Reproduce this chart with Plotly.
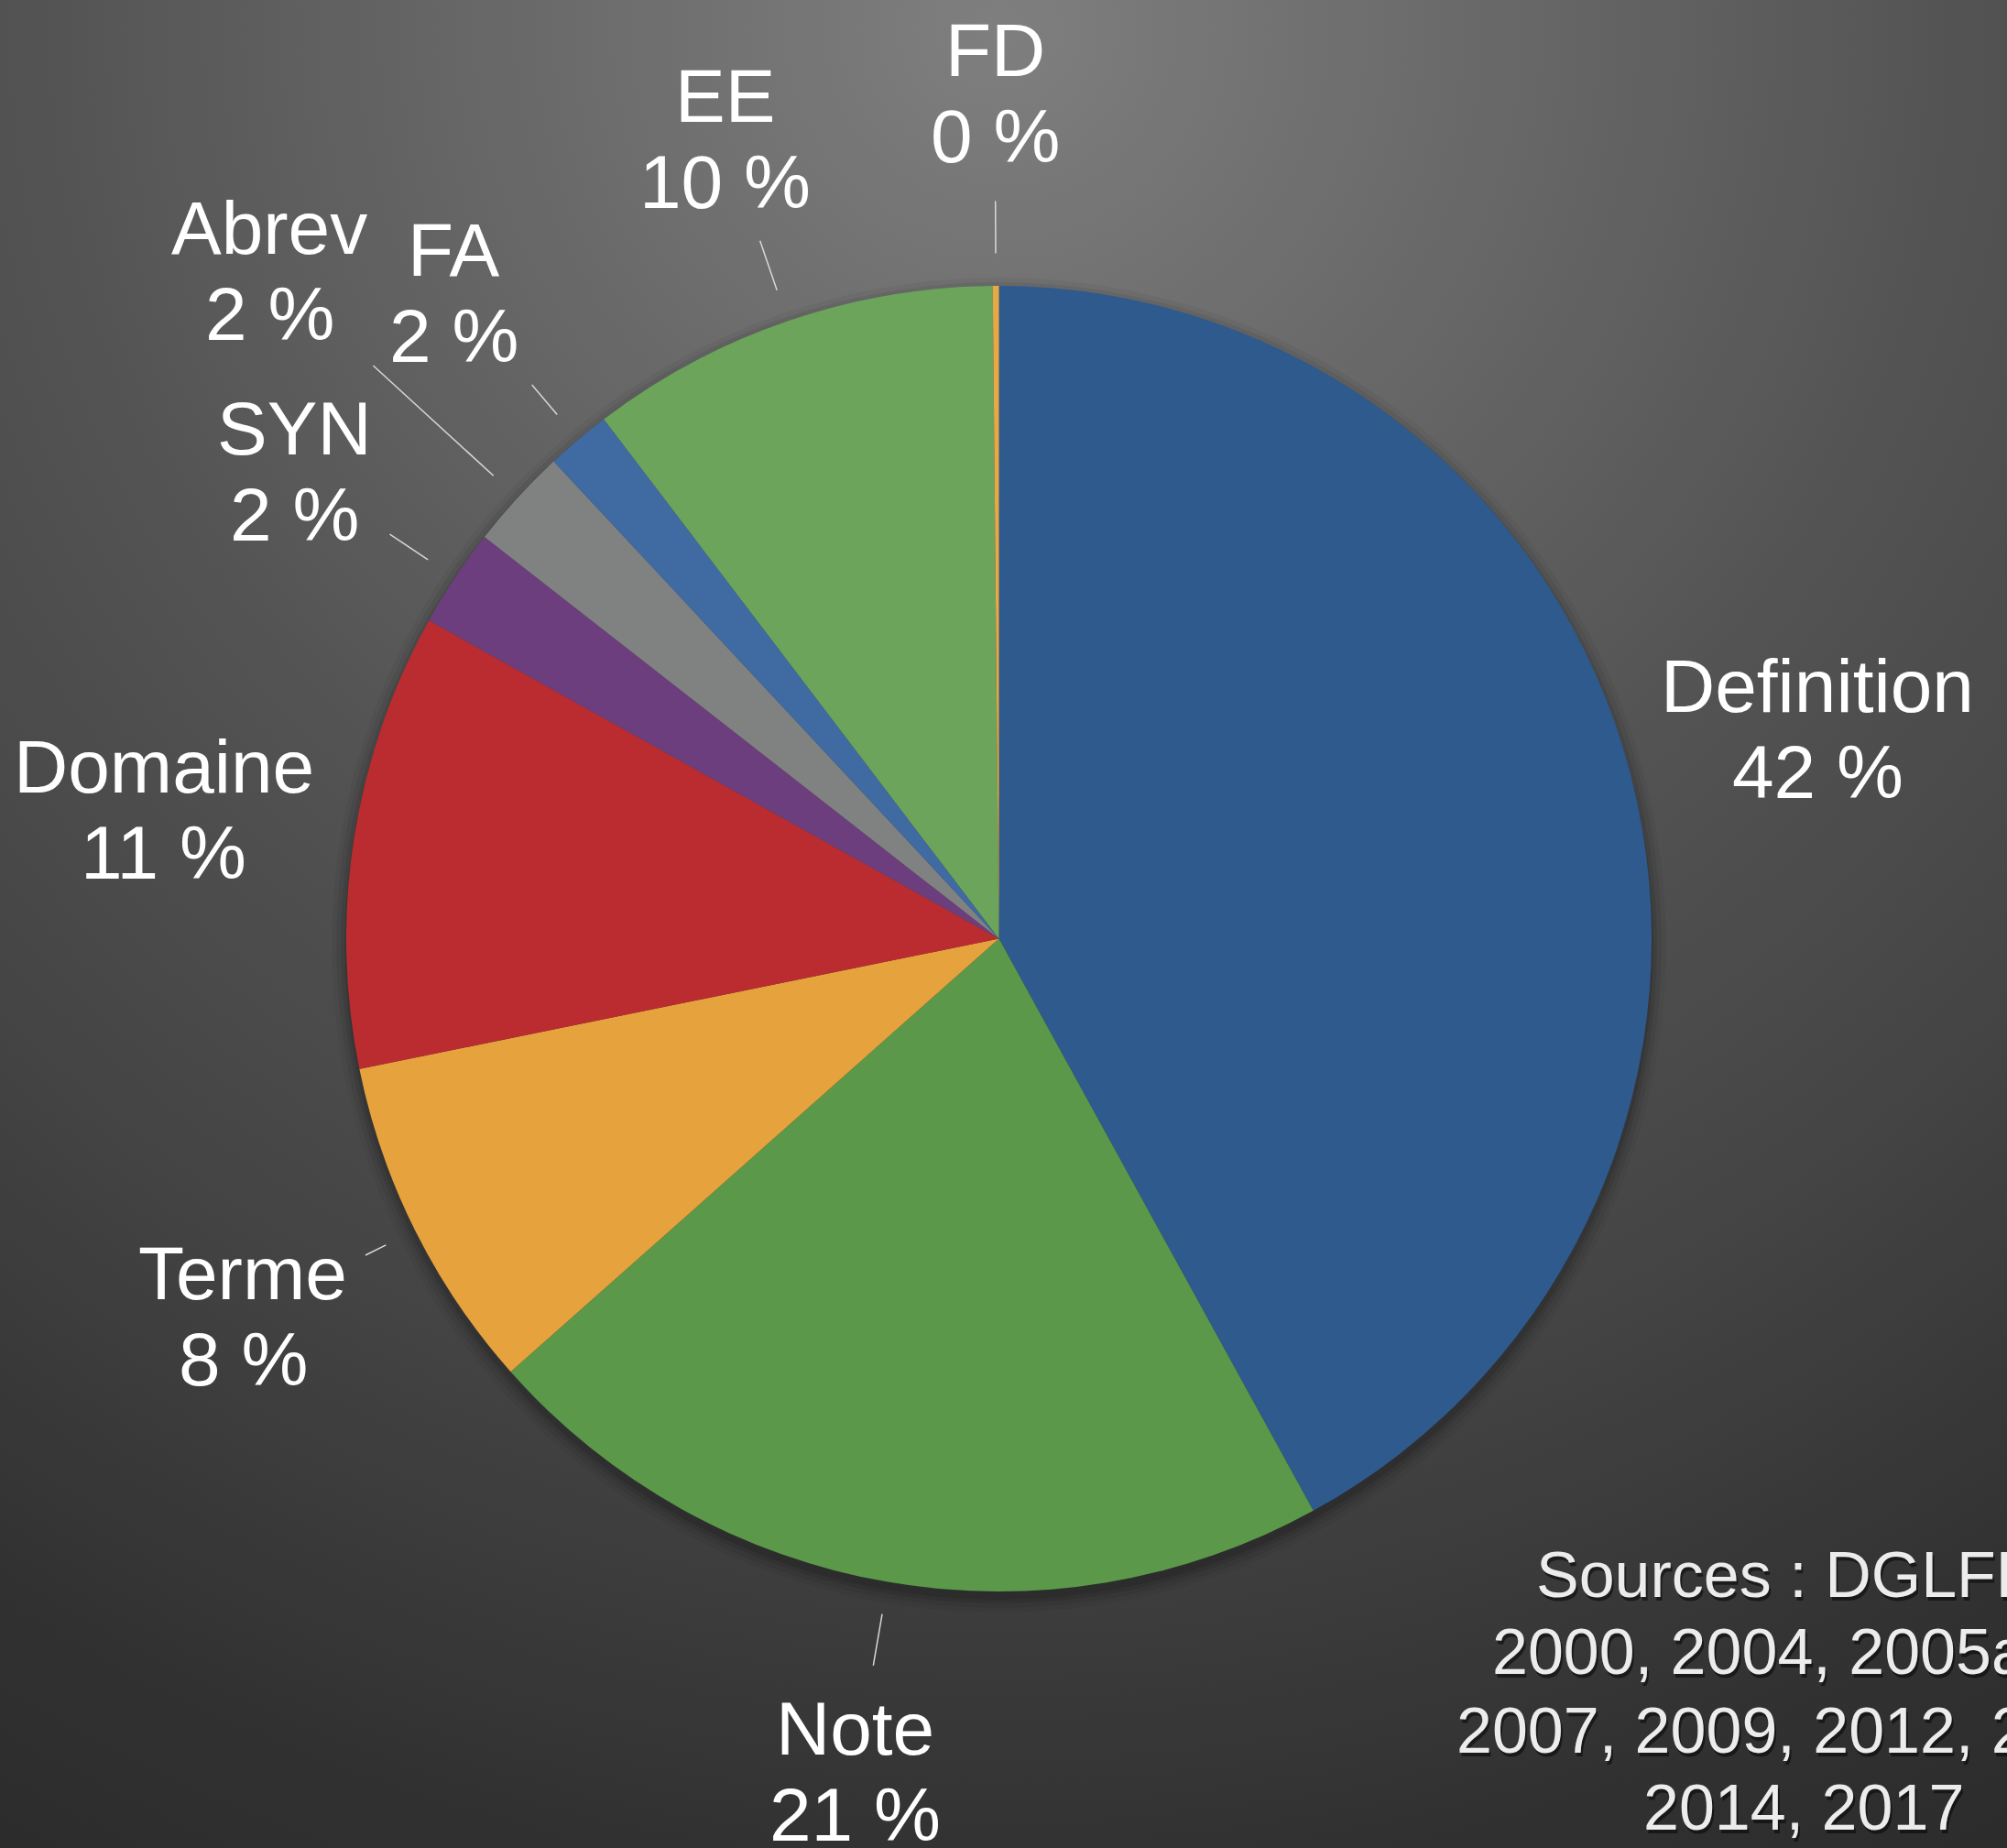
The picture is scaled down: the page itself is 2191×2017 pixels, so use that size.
import math
import base64
import plotly.graph_objects as go

# ---------------- data ----------------
categories = ["Definition", "Note", "Terme", "Domaine", "SYN", "Abrev", "FA", "EE", "FD"]
values = [42.0, 21.45, 8.35, 11.3, 2.45, 2.5, 1.6, 10.2, 0.15]
colors = ["#2E5A8E", "#5B984A", "#E6A23C", "#BB2C30", "#6D3E7D", "#7F8281", "#3F6AA2", "#6BA45A", "#E8A845"]
source_lines = ["Sources : DGLFLF", "2000, 2004, 2005a, b,", "2007, 2009, 2012, 2013,", "2014, 2017"]

# ---------------- style / layout ----------------
W, H = 2191, 2017
CX, CY, R = 1090.5, 1024.5, 712.5
label_dist = [1.295, 1.295, 1.295, 1.295, 1.295, 1.515, 1.295, 1.295, 1.295]
leader = [None, (1.05, 1.13), (1.05, 1.085), None, (1.05, 1.12), (1.05, 1.30), (1.05, 1.11), (1.05, 1.13), (1.05, 1.13)]
LABEL_SIZE = 82
LINE_GAP = 94
SRC_SIZE = 70
SRC_X = 1969
SRC_BASELINES = [1744, 1828, 1914, 1998]

def px(x):
    return x / W

def py(y):
    return 1 - y / H

# background radial gradient as svg image
svg = f'''<svg xmlns="http://www.w3.org/2000/svg" width="{W}" height="{H}" viewBox="0 0 {W} {H}">
<defs><radialGradient id="g" gradientUnits="userSpaceOnUse" cx="1090" cy="30" r="2350">
<stop offset="0" stop-color="#7f7f7f"/>
<stop offset="0.12" stop-color="#737373"/>
<stop offset="0.46" stop-color="#525252"/>
<stop offset="0.63" stop-color="#464646"/>
<stop offset="0.86" stop-color="#313131"/>
<stop offset="1" stop-color="#2a2a2a"/>
</radialGradient></defs>
<rect width="{W}" height="{H}" fill="url(#g)"/></svg>'''
bg_uri = "data:image/svg+xml;base64," + base64.b64encode(svg.encode()).decode()

fig = go.Figure()
fig.add_trace(go.Pie(
    labels=categories,
    values=values,
    sort=False,
    direction="clockwise",
    rotation=0,
    marker=dict(colors=colors, line=dict(width=0)),
    textinfo="none",
    showlegend=False,
    domain=dict(x=[px(CX - R), px(CX + R)], y=[py(CY + R), py(CY - R)]),
))

total = sum(values)
annotations = []
shapes = []

# soft shadow under pie
for grow, op in [(16, 0.04), (11, 0.06), (6, 0.08), (2, 0.10)]:
    rr = R + grow
    oy = 7
    shapes.append(dict(type="circle", xref="paper", yref="paper", layer="below",
                       x0=px(CX - rr), x1=px(CX + rr), y0=py(CY + oy + rr), y1=py(CY + oy - rr),
                       fillcolor=f"rgba(0,0,0,{op})", line=dict(width=0)))

label_font = dict(family="Liberation Sans, Arial, sans-serif", size=LABEL_SIZE, color="white")
cum = 0.0
for i, (cat, v) in enumerate(zip(categories, values)):
    mid = (cum + v / 2) / total * 2 * math.pi
    cum += v
    s, c = math.sin(mid), math.cos(mid)
    d = label_dist[i] * R
    lx, ly = CX + d * s, CY - d * c
    pct = f"{v / total * 100:.0f} %"
    for txt, off in [(cat, -LINE_GAP / 2), (pct, LINE_GAP / 2)]:
        annotations.append(dict(
            x=px(lx), y=py(ly + off), xref="paper", yref="paper",
            text=txt, showarrow=False,
            xanchor="center", yanchor="middle", align="center",
            font=label_font,
        ))
    if leader[i] is not None:
        r1, r2 = leader[i]
        shapes.append(dict(type="line", xref="paper", yref="paper", layer="above",
                           x0=px(CX + r1 * R * s), y0=py(CY - r1 * R * c),
                           x1=px(CX + r2 * R * s), y1=py(CY - r2 * R * c),
                           line=dict(color="#d8d8d8", width=1.5)))

for line, base in zip(source_lines, SRC_BASELINES):
    yc = base - 0.36 * SRC_SIZE
    for dx, dy, col in [(2, 4, "rgba(0,0,0,0.5)"), (0, 0, "#ececec")]:
        annotations.append(dict(
            x=px(SRC_X + dx), y=py(yc + dy), xref="paper", yref="paper",
            text=line, showarrow=False, xanchor="center", yanchor="middle", align="center",
            font=dict(family="Liberation Sans, Arial, sans-serif", size=SRC_SIZE, color=col),
        ))

fig.update_layout(
    width=W, height=H,
    margin=dict(l=0, r=0, t=0, b=0),
    paper_bgcolor="#3a3a3a",
    plot_bgcolor="rgba(0,0,0,0)",
    images=[dict(source=bg_uri, xref="paper", yref="paper", x=0, y=1, sizex=1, sizey=1,
                 sizing="stretch", xanchor="left", yanchor="top", layer="below")],
    annotations=annotations,
    shapes=shapes,
)

fig.write_html("out.html", config={"displayModeBar": False},
               post_script="document.body.style.margin='0';document.documentElement.style.overflow='hidden';")
